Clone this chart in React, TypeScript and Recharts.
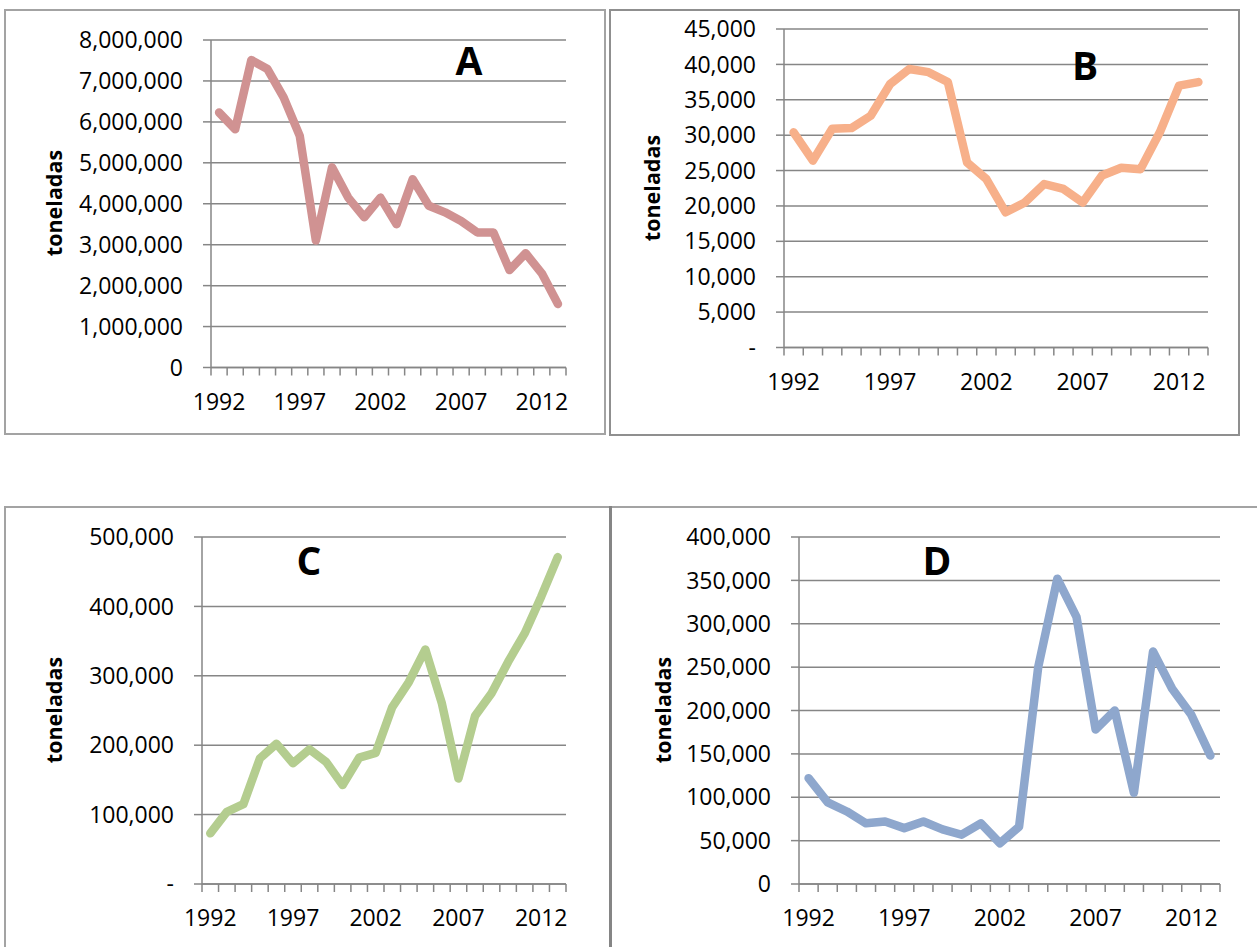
import React from "react";
import { LineChart, Line, XAxis, YAxis, CartesianGrid } from "recharts";

// años 1992-2013
const years = [
  1992, 1993, 1994, 1995, 1996, 1997, 1998, 1999, 2000, 2001, 2002,
  2003, 2004, 2005, 2006, 2007, 2008, 2009, 2010, 2011, 2012, 2013,
];
const labelYears = [1992, 1997, 2002, 2007, 2012];

const serieA = [
  6230000, 5820000, 7510000, 7290000, 6600000, 5660000, 3100000, 4890000,
  4150000, 3670000, 4150000, 3500000, 4600000, 3950000, 3790000, 3580000,
  3300000, 3300000, 2380000, 2790000, 2300000, 1550000,
];
const serieB = [
  30400, 26400, 30900, 31000, 32750, 37200, 39350, 38900, 37500, 26150, 23800,
  19100, 20500, 23100, 22400, 20500, 24300, 25400, 25200, 30400, 37000, 37500,
];
const serieC = [
  73000, 104000, 115000, 181000, 202000, 174000, 194000, 176000, 142500,
  182000, 189000, 255000, 291000, 338000, 260000, 152000, 242000, 275000,
  320000, 361000, 414000, 471000,
];
const serieD = [
  122000, 94000, 83600, 70000, 72000, 64400, 72000, 63000, 56800, 70000, 47000,
  66000, 250000, 352000, 308000, 178000, 200000, 105000, 268000, 225000,
  195000, 148000,
];

const ticksA = [0, 1000000, 2000000, 3000000, 4000000, 5000000, 6000000, 7000000, 8000000];
const ticksB = [0, 5000, 10000, 15000, 20000, 25000, 30000, 35000, 40000, 45000];
const ticksC = [0, 100000, 200000, 300000, 400000, 500000];
const ticksD = [0, 50000, 100000, 150000, 200000, 250000, 300000, 350000, 400000];

// tick marks go between the categories
const edgeTicks = [...years.map((y) => y - 0.5), years[years.length - 1] + 0.5];
const xDomain = [years[0] - 0.5, years[years.length - 1] + 0.5];

const GRID = "#868686";
const FONT = '"Open Sans", sans-serif';

const panels = [
  {
    name: "A", values: serieA, ticks: ticksA, zero: "0", color: "#d09292",
    plot: { left: 211, right: 566, top: 39.5, bottom: 367 },
    title: { x: 469, y: 60 }, ylab: { x: 54, y: 203 },
  },
  {
    name: "B", values: serieB, ticks: ticksB, zero: "-", color: "#f7b08a",
    plot: { left: 784, right: 1208, top: 28.5, bottom: 347 },
    title: { x: 1085, y: 65 }, ylab: { x: 652, y: 188 },
  },
  {
    name: "C", values: serieC, ticks: ticksC, zero: "-", color: "#b4cd8f",
    plot: { left: 202, right: 566, top: 537, bottom: 884 },
    title: { x: 309, y: 560 }, ylab: { x: 54, y: 710 },
  },
  {
    name: "D", values: serieD, ticks: ticksD, zero: "0", color: "#8ea7cd",
    plot: { left: 799, right: 1220, top: 537, bottom: 884 },
    title: { x: 937, y: 560 }, ylab: { x: 663, y: 710 },
  },
];

const Panel = ({ p }: { p: (typeof panels)[number] }) => {
  const rows = years.map((year, i) => ({ year, v: p.values[i] }));
  const yW = 140;
  const chartLeft = p.plot.left - yW;
  const chartTop = p.plot.top - 20;
  const width = p.plot.right - chartLeft + 15;
  const height = p.plot.bottom - chartTop + 50;
  const max = p.ticks[p.ticks.length - 1];
  const fmt = (v: number) => (v === 0 ? p.zero : v.toLocaleString("en-US"));
  const half = (p.plot.right - p.plot.left) / years.length / 2;

  // year label sits half a category to the right of the tick mark
  const YearTick = (props: any) => {
    const { x, y, payload } = props;
    const yr = payload.value + 0.5;
    if (!labelYears.includes(yr)) return <g />;
    return (
      <text
        x={x + half}
        y={y + 25}
        textAnchor="middle"
        dominantBaseline="central"
        fill="#000"
        fontSize={23}
        fontFamily={FONT}
      >
        {yr}
      </text>
    );
  };

  return (
    <>
      <div style={{ position: "absolute", left: chartLeft, top: chartTop }}>
        <LineChart
          width={width}
          height={height}
          data={rows}
          margin={{ top: 20, right: 15, left: 0, bottom: 0 }}
          style={{ overflow: "visible" }}
        >
          <CartesianGrid vertical={false} stroke={GRID} strokeWidth={1.5} />
          <XAxis
            type="number"
            dataKey="year"
            domain={xDomain}
            ticks={edgeTicks}
            interval={0}
            tick={YearTick}
            tickSize={8}
            tickMargin={0}
            height={50}
            axisLine={{ stroke: GRID, strokeWidth: 1.5 }}
            tickLine={{ stroke: GRID, strokeWidth: 1.5 }}
          />
          <YAxis
            type="number"
            domain={[0, max]}
            ticks={p.ticks}
            interval={0}
            width={yW}
            tickSize={8}
            tickMargin={20}
            tickFormatter={fmt}
            axisLine={{ stroke: GRID, strokeWidth: 1.5 }}
            tickLine={{ stroke: GRID, strokeWidth: 1.5 }}
            tick={{ fill: "#000", fontSize: 23, fontFamily: FONT }}
          />
          <Line
            type="linear"
            dataKey="v"
            stroke={p.color}
            strokeWidth={8.5}
            strokeLinecap="round"
            strokeLinejoin="round"
            dot={false}
            isAnimationActive={false}
          />
        </LineChart>
      </div>
      <div
        style={{
          position: "absolute", left: p.title.x - 30, top: p.title.y - 28,
          width: 60, textAlign: "center", fontSize: 39, lineHeight: "56px",
          fontWeight: 700, fontFamily: FONT, color: "#000",
        }}
      >
        {p.name}
      </div>
      <div
        style={{
          position: "absolute", left: p.ylab.x - 80, top: p.ylab.y - 15,
          width: 160, textAlign: "center", fontSize: 21.5, lineHeight: "30px",
          fontWeight: 700, fontFamily: FONT, color: "#000",
          transform: "rotate(-90deg)",
        }}
      >
        toneladas
      </div>
    </>
  );
};

export default function App() {
  return (
    <div
      style={{
        position: "absolute", left: 0, top: 0, width: 1257, height: 947,
        background: "#fff", overflow: "hidden",
      }}
    >
      {/* marcos de los paneles */}
      <div style={{ position: "absolute", left: 4, top: 9, width: 598, height: 422, border: "2px solid #a3a3a3" }} />
      <div style={{ position: "absolute", left: 609, top: 9, width: 627, height: 423, border: "2px solid #8f8f8f" }} />
      <div style={{ position: "absolute", left: 4, top: 506, width: 1270, height: 460, border: "2px solid #a3a3a3" }} />
      <div style={{ position: "absolute", left: 609, top: 506, width: 3, height: 460, background: "#858585" }} />
      {panels.map((p) => (
        <Panel key={p.name} p={p} />
      ))}
    </div>
  );
}
